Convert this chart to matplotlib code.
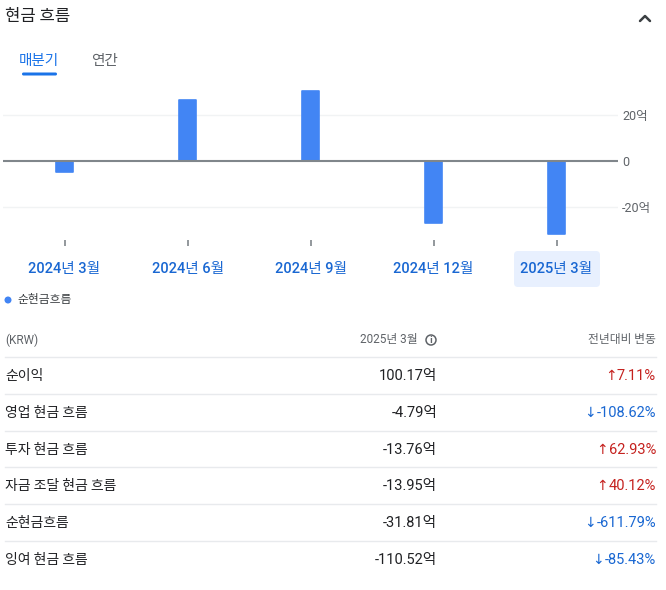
import matplotlib
matplotlib.use('Agg')
import matplotlib.pyplot as plt
from matplotlib.patches import FancyBboxPatch, Circle

plt.rcParams['font.family'] = ['Noto Sans CJK KR', 'DejaVu Sans']
NUM_FONT = ['Roboto', 'Noto Sans CJK KR', 'DejaVu Sans']

# chart data (억 KRW)
periods = ['2024년 3월', '2024년 6월', '2024년 9월', '2024년 12월', '2025년 3월']
net_cash = [-4.6, 26.6, 30.5, -27.0, -31.81]
y_ticks = [-20, 0, 20]
y_tick_labels = ['-20억', '0', '20억']

# table data
row_names = ['순이익', '영업 현금 흐름', '투자 현금 흐름', '자금 조달 현금 흐름', '순현금흐름', '잉여 현금 흐름']
row_values = ['100.17억', '-4.79억', '-13.76억', '-13.95억', '-31.81억', '-110.52억']
row_changes = [7.11, -108.62, 62.93, 40.12, -611.79, -85.43]

BLUE = '#4285f4'
LINK = '#1967d2'
DARK = '#202124'
GRAY = '#5f6368'
RED = '#c5221f'

W, H = 666, 590
fig = plt.figure(figsize=(W / 100, H / 100), dpi=100)
renderer = fig.canvas.get_renderer()

# background axes in pixel coords
bg = fig.add_axes([0, 0, 1, 1])
bg.set_xlim(0, W)
bg.set_ylim(H, 0)
bg.axis('off')

# header
bg.text(5, 16, '현금 흐름', fontsize=12, color=DARK, va='center', ha='left')
bg.plot([640, 645, 650], [21, 16, 21], color='#3c4043', lw=1.8, solid_capstyle='round')

# tabs
bg.text(39, 61, '매분기', fontsize=10.5, color='#1a73e8', va='center', ha='center', fontweight='medium')
bg.text(104, 61, '연간', fontsize=10.5, color=GRAY, va='center', ha='center')
bg.add_patch(FancyBboxPatch((22, 72.5), 35, 3, boxstyle='round,pad=0,rounding_size=1.5',
                            fc='#1a73e8', ec='none'))

# highlight behind the last period label
bg.add_patch(FancyBboxPatch((514, 251), 86, 36, boxstyle='round,pad=0,rounding_size=4',
                            fc='#e8f0fe', ec='none'))

# legend
bg.add_patch(Circle((8, 300), 3.5, fc=BLUE, ec='none'))
bg.text(17, 300, '순현금흐름', fontsize=8.5, color='#3c4043', va='center', ha='left')

# chart axes, placed in pixels
left, right, top, bottom = 3, 618, 85, 237
ax = fig.add_axes([left / W, 1 - bottom / H, (right - left) / W, (bottom - top) / H])
ax.patch.set_alpha(0)
x = list(range(len(periods)))
bars = ax.bar(x, net_cash, width=0.145, color=BLUE, zorder=3)
for b in bars:
    b.set_edgecolor(BLUE)
    b.set_linewidth(1.2)
    b.set_joinstyle('round')
ax.axhline(0, color='#80868b', lw=1.5, zorder=4)
for t in (-20, 20):
    ax.axhline(t, color='#f1f3f4', lw=1, zorder=1)
ax.set_xlim(-0.5, 4.5)
ax.set_ylim(-33, 33)
for s in ax.spines.values():
    s.set_visible(False)
ax.spines['bottom'].set_position(('outward', 2))
ax.set_xticks(x)
ax.set_xticklabels(periods, fontsize=10.5, color=LINK, fontweight='medium', family=NUM_FONT)
ax.tick_params(axis='x', length=4, width=1.2, color='#80868b', pad=12)
ax.yaxis.tick_right()
ax.set_yticks(y_ticks)
ax.set_yticklabels(y_tick_labels, fontsize=9, color=GRAY, family=NUM_FONT)
ax.tick_params(axis='y', length=0, pad=3)

# table
bg.text(5, 340, '(KRW)', fontsize=8.5, color=GRAY, va='center', ha='left', family=NUM_FONT)
bg.text(418, 340, '2025년 3월', fontsize=8.5, color=GRAY, va='center', ha='right', family=NUM_FONT)
bg.add_patch(Circle((431, 340), 5, fc='none', ec=GRAY, lw=1.1))
bg.text(431, 340.5, 'i', fontsize=6.5, color=GRAY, va='center', ha='center', fontweight='bold')
bg.text(656, 340, '전년대비 변동', fontsize=8.5, color=GRAY, va='center', ha='right')

row_h = 36.8
for i, (name, val, chg) in enumerate(zip(row_names, row_values, row_changes)):
    y_line = 357 + i * row_h
    bg.plot([5, 656], [y_line, y_line], color='#e8eaed', lw=1)
    yc = y_line + 19
    bg.text(5, yc, name, fontsize=10, color=DARK, va='center', ha='left')
    bg.text(437, yc, val, fontsize=10.5, color=DARK, va='center', ha='right', family=NUM_FONT)
    col = RED if chg >= 0 else LINK
    t = bg.text(656, yc, f'{chg:.2f}%', fontsize=10.5, color=col, va='center', ha='right',
                family=NUM_FONT)
    ext = t.get_window_extent(renderer)
    arrow_x = bg.transData.inverted().transform((ext.x0, 0))[0] - 0.5
    bg.text(arrow_x, yc, '↑' if chg >= 0 else '↓', fontsize=10, color=col,
            va='center', ha='right', family=['DejaVu Sans'])

fig.savefig('out.png', dpi=100)
